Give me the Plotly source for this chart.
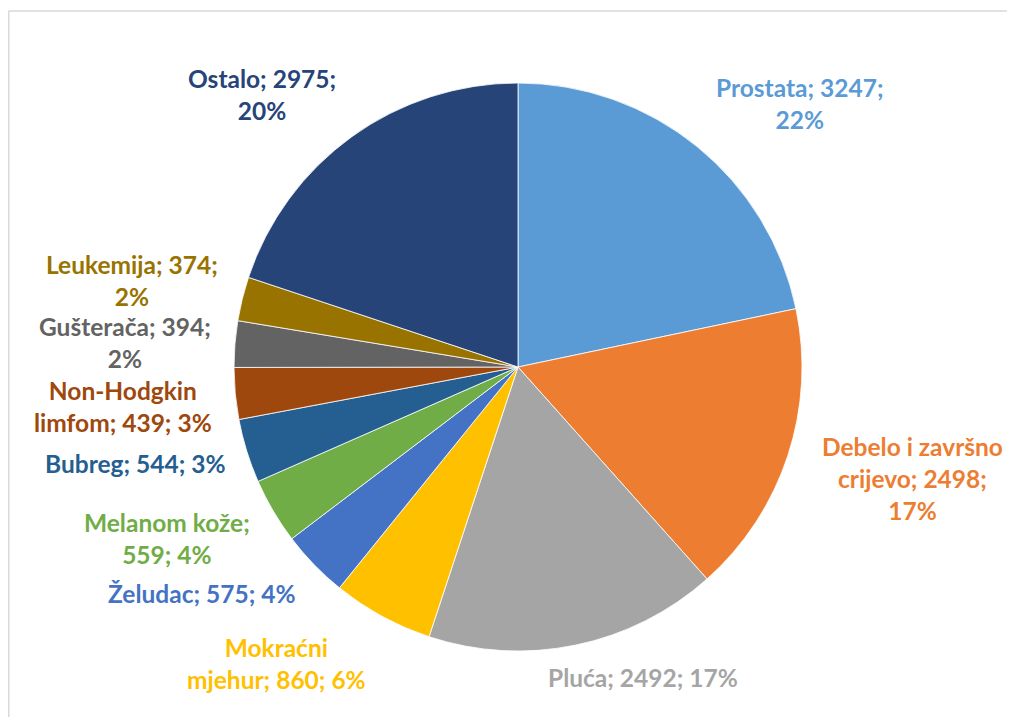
import plotly.graph_objects as go

# Data
categories = ["Prostata", "Debelo i završno crijevo", "Pluća", "Mokraćni mjehur",
              "Želudac", "Melanom kože", "Bubreg", "Non-Hodgkin limfom",
              "Gušterača", "Leukemija", "Ostalo"]
values = [3247, 2498, 2492, 860, 575, 559, 544, 439, 394, 374, 2975]
percents = [22, 17, 17, 6, 4, 4, 3, 3, 2, 2, 20]
colors = ["#5B9BD5", "#ED7D31", "#A5A5A5", "#FFC000", "#4472C4", "#70AD47",
          "#255E91", "#9E480E", "#636363", "#997300", "#264478"]

# label line-break templates (text layout only)
label_templates = [
    "Prostata; {v};<br>{p}%",
    "Debelo i završno<br>crijevo; {v};<br>{p}%",
    "Pluća; {v}; {p}%",
    "Mokraćni<br>mjehur; {v}; {p}%",
    "Želudac; {v}; {p}%",
    "Melanom kože;<br>{v}; {p}%",
    "Bubreg; {v}; {p}%",
    "Non-Hodgkin<br>limfom; {v}; {p}%",
    "Gušterača; {v};<br>{p}%",
    "Leukemija; {v};<br>{p}%",
    "Ostalo; {v};<br>{p}%",
]
# label centre positions in window pixels (x, y from top)
label_pos = [(800, 103), (912, 478), (643, 677), (276, 663), (202, 593),
             (167, 538), (135, 463), (123, 406), (125, 343), (132, 280), (262, 94)]

OFF = 8  # page body margin
W, H = 1015 - OFF, 717 - OFF
cx, cy, r = 518 - OFF, 367 - OFF, 284

fig = go.Figure(go.Pie(
    labels=categories, values=values, sort=False, direction="clockwise",
    rotation=0, textinfo="none", hole=0,
    marker=dict(colors=colors, line=dict(color="white", width=0.8)),
    domain=dict(x=[(cx - r) / W, (cx + r) / W],
                y=[(H - cy - r) / H, (H - cy + r) / H]),
    showlegend=False,
))

annotations = []
for tmpl, v, p, c, (px, py) in zip(label_templates, values, percents, colors, label_pos):
    annotations.append(dict(
        text="<b>" + tmpl.format(v=v, p=p) + "</b>",
        x=(px - OFF) / W, y=1 - (py - OFF) / H, xref="paper", yref="paper",
        xanchor="center", yanchor="middle", align="center", showarrow=False,
        borderpad=0,
        font=dict(family="Lato", size=24.5, color=c),
    ))

bx, by = 0.8, 11 - OFF
fig.update_layout(
    width=W, height=H, margin=dict(l=0, r=0, t=0, b=0),
    paper_bgcolor="white", plot_bgcolor="white",
    annotations=annotations,
    shapes=[
        dict(type="line", xref="paper", yref="paper", x0=bx / W, x1=bx / W,
             y0=1 - by / H, y1=0, line=dict(color="#D9D9D9", width=1.5)),
        dict(type="line", xref="paper", yref="paper", x0=bx / W, x1=1,
             y0=1 - by / H, y1=1 - by / H, line=dict(color="#D9D9D9", width=1.5)),
    ],
)

fig.write_html("out.html")
